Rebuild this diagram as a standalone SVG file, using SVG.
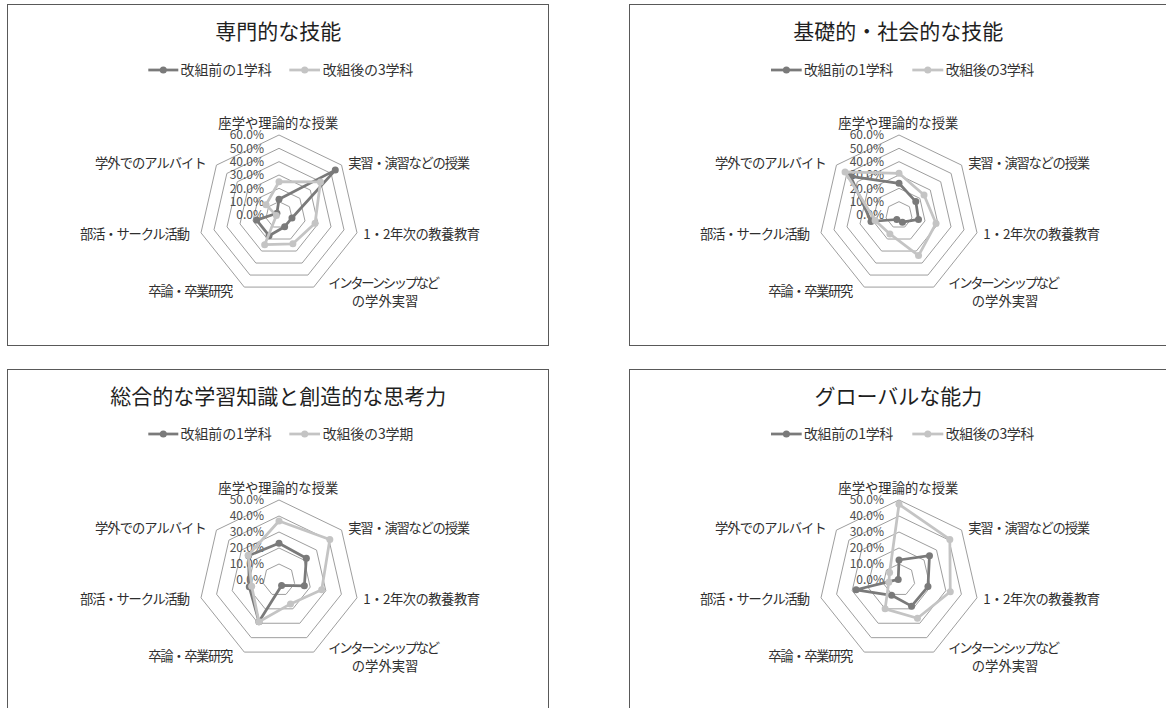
<svg xmlns="http://www.w3.org/2000/svg" xmlns:xlink="http://www.w3.org/1999/xlink" width="1166" height="708" viewBox="0 0 1166 708">
<style>
text{font-family:"Noto Sans CJK JP","Noto Sans",sans-serif;}
.box{fill:#ffffff;stroke:#595959;stroke-width:1;}
.title{font-size:21px;fill:#1f1f1f;text-anchor:middle;}
.leg{font-size:14px;fill:#333333;}
.cat{font-size:13.3px;fill:#2e2e2e;}
.val{font-size:12px;fill:#4d4d4d;text-anchor:end;}
.grid polygon{fill:none;stroke:#9e9e9e;stroke-width:1;}
.s1{fill:none;stroke:#7a7a7a;stroke-width:2.75;stroke-linejoin:round;}
.s2{fill:none;stroke:#c4c4c4;stroke-width:2.75;stroke-linejoin:round;}
.m1{fill:#7a7a7a;}
.m2{fill:#c4c4c4;}
.l1{stroke:#7a7a7a;stroke-width:2.75;}
.l2{stroke:#c4c4c4;stroke-width:2.75;}
</style>
<defs>
<g id="grid6" class="grid">
<polygon points="0,-13.33 10.42,-8.31 13,2.97 5.79,12.01 -5.79,12.01 -13,2.97 -10.42,-8.31"/>
<polygon points="0,-26.67 20.85,-16.63 26,5.93 11.57,24.03 -11.57,24.03 -26,5.93 -20.85,-16.63"/>
<polygon points="0,-40 31.27,-24.94 39,8.9 17.36,36.04 -17.36,36.04 -39,8.9 -31.27,-24.94"/>
<polygon points="0,-53.33 41.7,-33.25 52,11.87 23.14,48.05 -23.14,48.05 -52,11.87 -41.7,-33.25"/>
<polygon points="0,-66.67 52.12,-41.57 65,14.83 28.93,60.06 -28.93,60.06 -65,14.83 -52.12,-41.57"/>
<polygon points="0,-80 62.55,-49.88 77.99,17.8 34.71,72.08 -34.71,72.08 -77.99,17.8 -62.55,-49.88"/>
</g>
<g id="grid5" class="grid">
<polygon points="0,-16 12.51,-9.98 15.6,3.56 6.94,14.42 -6.94,14.42 -15.6,3.56 -12.51,-9.98"/>
<polygon points="0,-32 25.02,-19.95 31.2,7.12 13.88,28.83 -13.88,28.83 -31.2,7.12 -25.02,-19.95"/>
<polygon points="0,-48 37.53,-29.93 46.8,10.68 20.83,43.25 -20.83,43.25 -46.8,10.68 -37.53,-29.93"/>
<polygon points="0,-64 50.04,-39.9 62.4,14.24 27.77,57.66 -27.77,57.66 -62.4,14.24 -50.04,-39.9"/>
<polygon points="0,-80 62.55,-49.88 77.99,17.8 34.71,72.08 -34.71,72.08 -77.99,17.8 -62.55,-49.88"/>
</g>
<g id="cats">
<text class="cat" x="-60.7" y="-87" textLength="120" lengthAdjust="spacing">座学や理論的な授業</text>
<text class="cat" x="69.3" y="-47" textLength="121.7" lengthAdjust="spacing">実習・演習などの授業</text>
<text class="cat" x="84.3" y="24" textLength="116.7" lengthAdjust="spacing">1・2年次の教養教育</text>
<text class="cat" x="49.3" y="73" textLength="111.7" lengthAdjust="spacing">インターンシップなど</text>
<text class="cat" x="72.7" y="91" textLength="66.7" lengthAdjust="spacing">の学外実習</text>
<text class="cat" x="-130.7" y="81" textLength="85" lengthAdjust="spacing">卒論・卒業研究</text>
<text class="cat" x="-199" y="24" textLength="110" lengthAdjust="spacing">部活・サークル活動</text>
<text class="cat" x="-184" y="-47" textLength="111.7" lengthAdjust="spacing">学外でのアルバイト</text>
</g>
<g id="vals6">
<text class="val" x="-15" y="-75.7">60.0%</text>
<text class="val" x="-15" y="-62.4">50.0%</text>
<text class="val" x="-15" y="-49">40.0%</text>
<text class="val" x="-15" y="-35.7">30.0%</text>
<text class="val" x="-15" y="-22.4">20.0%</text>
<text class="val" x="-15" y="-9">10.0%</text>
<text class="val" x="-15" y="4.3">0.0%</text>
</g>
<g id="vals5">
<text class="val" x="-15" y="-75.7">50.0%</text>
<text class="val" x="-15" y="-59.7">40.0%</text>
<text class="val" x="-15" y="-43.7">30.0%</text>
<text class="val" x="-15" y="-27.7">20.0%</text>
<text class="val" x="-15" y="-11.7">10.0%</text>
<text class="val" x="-15" y="4.3">0.0%</text>
</g>
</defs>

<g id="chart1">
<rect class="box" x="7.5" y="4.5" width="541" height="341"/>
<text class="title" x="278.3" y="38.5">専門的な技能</text>
<g id="legend1">
<line class="l1" x1="148.3" y1="70" x2="178.3" y2="70"/><circle class="m1" cx="163.3" cy="70" r="3.5"/>
<text class="leg" x="180.5" y="75.3" textLength="91.2" lengthAdjust="spacing">改組前の1学科</text>
<line class="l2" x1="289.3" y1="70" x2="320" y2="70"/><circle class="m2" cx="304.7" cy="70" r="3.5"/>
<text class="leg" x="322.7" y="75.3" textLength="90.6" lengthAdjust="spacing">改組後の3学科</text>
</g>
<g transform="translate(279,215)">
<use xlink:href="#grid6" href="#grid6"/>
<use xlink:href="#vals6" href="#vals6"/>
<use xlink:href="#cats" href="#cats"/>
<polygon class="s1" points="0,-15.7 56.29,-44.89 12.97,2.96 5.64,11.71 -9.98,20.72 -22.33,5.1 -2.11,-1.68"/>
<g class="m1"><circle cx="0" cy="-15.7" r="3.5"/><circle cx="56.29" cy="-44.89" r="3.5"/><circle cx="12.97" cy="2.96" r="3.5"/><circle cx="5.64" cy="11.71" r="3.5"/><circle cx="-9.98" cy="20.72" r="3.5"/><circle cx="-22.33" cy="5.1" r="3.5"/><circle cx="-2.11" cy="-1.68" r="3.5"/></g>
<polygon class="s2" points="0,-33.3 41.44,-33.04 36.07,8.23 13.88,28.83 -14.32,29.73 -2.63,0.6 -12.98,-10.35"/>
<g class="m2"><circle cx="0" cy="-33.3" r="3.5"/><circle cx="41.44" cy="-33.04" r="3.5"/><circle cx="36.07" cy="8.23" r="3.5"/><circle cx="13.88" cy="28.83" r="3.5"/><circle cx="-14.32" cy="29.73" r="3.5"/><circle cx="-2.63" cy="0.6" r="3.5"/><circle cx="-12.98" cy="-10.35" r="3.5"/></g>
</g>
</g>

<g id="chart2">
<rect class="box" x="629.5" y="4.5" width="541" height="341"/>
<text class="title" x="898.3" y="38.5">基礎的・社会的な技能</text>
<g id="legend2">
<line class="l1" x1="771" y1="70" x2="801.7" y2="70"/><circle class="m1" cx="786.4" cy="70" r="3.5"/>
<text class="leg" x="804" y="75.3" textLength="89.3" lengthAdjust="spacing">改組前の1学科</text>
<line class="l2" x1="912.3" y1="70" x2="943.3" y2="70"/><circle class="m2" cx="927.8" cy="70" r="3.5"/>
<text class="leg" x="945.7" y="75.3" textLength="88.6" lengthAdjust="spacing">改組後の3学科</text>
</g>
<g transform="translate(899,215)">
<use xlink:href="#grid6" href="#grid6"/>
<use xlink:href="#vals6" href="#vals6"/>
<use xlink:href="#cats" href="#cats"/>
<polygon class="s1" points="0,-31.7 16.81,-13.41 19.5,4.45 3.47,7.21 -2.17,4.5 -27.98,6.39 -48.47,-38.66"/>
<g class="m1"><circle cx="0" cy="-31.7" r="3.5"/><circle cx="16.81" cy="-13.41" r="3.5"/><circle cx="19.5" cy="4.45" r="3.5"/><circle cx="3.47" cy="7.21" r="3.5"/><circle cx="-2.17" cy="4.5" r="3.5"/><circle cx="-27.98" cy="6.39" r="3.5"/><circle cx="-48.47" cy="-38.66" r="3.5"/></g>
<polygon class="s2" points="0,-41.7 25.02,-19.95 37.05,8.46 19.52,40.54 -9.11,18.92 -23.89,5.45 -53.95,-43.02"/>
<g class="m2"><circle cx="0" cy="-41.7" r="3.5"/><circle cx="25.02" cy="-19.95" r="3.5"/><circle cx="37.05" cy="8.46" r="3.5"/><circle cx="19.52" cy="40.54" r="3.5"/><circle cx="-9.11" cy="18.92" r="3.5"/><circle cx="-23.89" cy="5.45" r="3.5"/><circle cx="-53.95" cy="-43.02" r="3.5"/></g>
</g>
</g>

<g id="chart3">
<rect class="box" x="7.5" y="369.5" width="541" height="341"/>
<text class="title" x="278.3" y="403.5">総合的な学習知識と創造的な思考力</text>
<g id="legend3">
<line class="l1" x1="148.3" y1="434" x2="178.3" y2="434"/><circle class="m1" cx="163.3" cy="434" r="3.5"/>
<text class="leg" x="180.5" y="439.3" textLength="91.2" lengthAdjust="spacing">改組前の1学科</text>
<line class="l2" x1="289.3" y1="434" x2="320" y2="434"/><circle class="m2" cx="304.7" cy="434" r="3.5"/>
<text class="leg" x="322.7" y="439.3" textLength="90.6" lengthAdjust="spacing">改組後の3学期</text>
</g>
<g transform="translate(279,580)">
<use xlink:href="#grid5" href="#grid5"/>
<use xlink:href="#vals5" href="#vals5"/>
<use xlink:href="#cats" href="#cats"/>
<polygon class="s1" points="0,-36.7 27.36,-21.82 25.35,5.79 2.6,5.41 -20.09,41.71 -29.74,6.79 -30.49,-24.32"/>
<g class="m1"><circle cx="0" cy="-36.7" r="3.5"/><circle cx="27.36" cy="-21.82" r="3.5"/><circle cx="25.35" cy="5.79" r="3.5"/><circle cx="2.6" cy="5.41" r="3.5"/><circle cx="-20.09" cy="41.71" r="3.5"/><circle cx="-29.74" cy="6.79" r="3.5"/><circle cx="-30.49" cy="-24.32" r="3.5"/></g>
<polygon class="s2" points="0,-59 50.82,-40.53 42.7,9.75 11.5,23.88 -20.09,41.71 -27.3,6.23 -30.88,-24.63"/>
<g class="m2"><circle cx="0" cy="-59" r="3.5"/><circle cx="50.82" cy="-40.53" r="3.5"/><circle cx="42.7" cy="9.75" r="3.5"/><circle cx="11.5" cy="23.88" r="3.5"/><circle cx="-20.09" cy="41.71" r="3.5"/><circle cx="-27.3" cy="6.23" r="3.5"/><circle cx="-30.88" cy="-24.63" r="3.5"/></g>
</g>
</g>

<g id="chart4">
<rect class="box" x="629.5" y="369.5" width="541" height="341"/>
<text class="title" x="898.3" y="403.5">グローバルな能力</text>
<g id="legend4">
<line class="l1" x1="771" y1="434" x2="801.7" y2="434"/><circle class="m1" cx="786.4" cy="434" r="3.5"/>
<text class="leg" x="804" y="439.3" textLength="89.3" lengthAdjust="spacing">改組前の1学科</text>
<line class="l2" x1="912.3" y1="434" x2="943.3" y2="434"/><circle class="m2" cx="927.8" cy="434" r="3.5"/>
<text class="leg" x="945.7" y="439.3" textLength="88.6" lengthAdjust="spacing">改組後の3学科</text>
</g>
<g transform="translate(899,580)">
<use xlink:href="#grid5" href="#grid5"/>
<use xlink:href="#vals5" href="#vals5"/>
<use xlink:href="#cats" href="#cats"/>
<polygon class="s1" points="0,-20 30.49,-24.32 28.96,6.61 12.58,26.13 -7.38,15.32 -42.9,9.79 -0.78,-0.62"/>
<g class="m1"><circle cx="0" cy="-20" r="3.5"/><circle cx="30.49" cy="-24.32" r="3.5"/><circle cx="28.96" cy="6.61" r="3.5"/><circle cx="12.58" cy="26.13" r="3.5"/><circle cx="-7.38" cy="15.32" r="3.5"/><circle cx="-42.9" cy="9.79" r="3.5"/><circle cx="-0.78" cy="-0.62" r="3.5"/></g>
<polygon class="s2" points="0,-75.7 50.82,-40.53 51.28,11.7 18.44,38.29 -13.88,28.83 -10.24,2.34 -9.38,-7.48"/>
<g class="m2"><circle cx="0" cy="-75.7" r="3.5"/><circle cx="50.82" cy="-40.53" r="3.5"/><circle cx="51.28" cy="11.7" r="3.5"/><circle cx="18.44" cy="38.29" r="3.5"/><circle cx="-13.88" cy="28.83" r="3.5"/><circle cx="-10.24" cy="2.34" r="3.5"/><circle cx="-9.38" cy="-7.48" r="3.5"/></g>
</g>
</g>
</svg>
